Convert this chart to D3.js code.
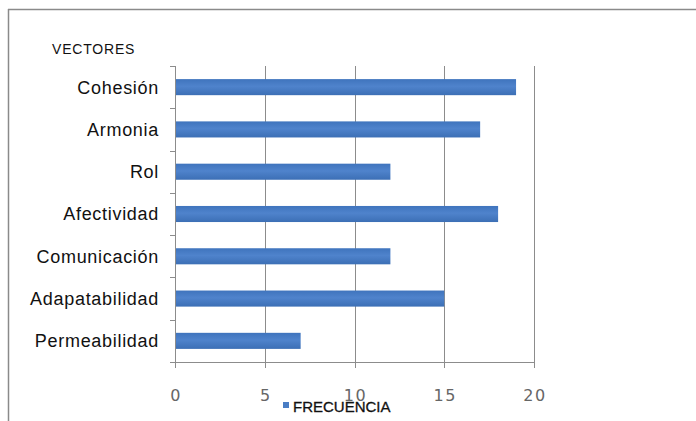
<!DOCTYPE html>
<html>
<head>
<meta charset="utf-8">
<script src="https://cdn.jsdelivr.net/npm/d3@7"></script>
<style>
  body { margin: 0; background: #fff; }
  svg { display: block; }
</style>
</head>
<body>
<svg id="chart" width="696" height="421"></svg>
<script>
// datos del gráfico
const vectores = ["Cohesión", "Armonia", "Rol", "Afectividad", "Comunicación", "Adapatabilidad", "Permeabilidad"];
const frecuencia = [19, 17, 12, 18, 12, 15, 7];
const ticksX = [0, 5, 10, 15, 20];

const svg = d3.select('#chart');
const margin = { top: 66, left: 175, right: 162, bottom: 59 };
const width = 696 - margin.left - margin.right;
const height = 421 - margin.top - margin.bottom;

// marco exterior
svg.append('line')
    .attr('x1', 8).attr('x2', 696).attr('y1', 9.5).attr('y2', 9.5)
    .attr('stroke', '#8a8a8a').attr('stroke-width', 1.5);
svg.append('line')
    .attr('x1', 8.5).attr('x2', 8.5).attr('y1', 9).attr('y2', 421)
    .attr('stroke', '#8a8a8a').attr('stroke-width', 1.5);

const g = svg.append('g').attr('transform', `translate(${margin.left},${margin.top})`);

const x = d3.scaleLinear().domain([0, 20]).range([0, width]);
const y = d3.scaleBand().domain(vectores).range([0, height]).paddingInner(0.62).paddingOuter(0.31);
const yb = d3.scaleBand().domain(vectores).range([0, height]);

// líneas de cuadrícula
g.selectAll('.grid')
    .data(ticksX.slice(1))
    .enter()
    .append('line')
    .attr('class', 'grid')
    .attr('x1', d => Math.round(x(d)) + 0.5)
    .attr('x2', d => Math.round(x(d)) + 0.5)
    .attr('y1', 0)
    .attr('y2', height)
    .attr('stroke', '#8c8c8c')
    .attr('stroke-width', 1);

// eje x
g.append('line')
    .attr('x1', 0).attr('x2', width).attr('y1', height + 0.5).attr('y2', height + 0.5)
    .attr('stroke', '#8c8c8c');
g.selectAll('.xtick')
    .data(ticksX)
    .enter()
    .append('line')
    .attr('class', 'xtick')
    .attr('x1', d => Math.round(x(d)) + 0.5)
    .attr('x2', d => Math.round(x(d)) + 0.5)
    .attr('y1', height)
    .attr('y2', height + 6)
    .attr('stroke', '#8c8c8c');
g.selectAll('.xlabel')
    .data(ticksX)
    .enter()
    .append('text')
    .attr('class', 'xlabel')
    .attr('x', d => x(d) + 1)
    .attr('y', height + 39)
    .attr('text-anchor', 'middle')
    .attr('font-family', 'DejaVu Sans, sans-serif')
    .attr('font-size', 16)
    .attr('letter-spacing', 1.5)
    .attr('fill', '#666')
    .text(d => d);

// eje y
g.append('line')
    .attr('x1', 0.5).attr('x2', 0.5).attr('y1', 0).attr('y2', height)
    .attr('stroke', '#8c8c8c');
g.selectAll('.ytick')
    .data(vectores.concat(['fin']))
    .enter()
    .append('line')
    .attr('class', 'ytick')
    .attr('x1', -5).attr('x2', 0)
    .attr('y1', (d, i) => Math.round(i * yb.step()) + 0.5)
    .attr('y2', (d, i) => Math.round(i * yb.step()) + 0.5)
    .attr('stroke', '#8c8c8c');

// barras
const grad = svg.append('defs').append('linearGradient')
    .attr('id', 'barra').attr('x1', 0).attr('x2', 0).attr('y1', 0).attr('y2', 1);
grad.append('stop').attr('offset', '0%').attr('stop-color', '#3f74bd');
grad.append('stop').attr('offset', '45%').attr('stop-color', '#4f83cc');
grad.append('stop').attr('offset', '100%').attr('stop-color', '#3c6fb5');

g.selectAll('.barra')
    .data(frecuencia)
    .enter()
    .append('rect')
    .attr('class', 'barra')
    .attr('x', 1)
    .attr('y', (d, i) => y(vectores[i]))
    .attr('width', d => x(d) - 1)
    .attr('height', y.bandwidth())
    .attr('fill', 'url(#barra)');

// etiquetas categorías
g.selectAll('.ylabel')
    .data(vectores)
    .enter()
    .append('text')
    .attr('class', 'ylabel')
    .attr('x', -16)
    .attr('y', d => yb(d) + yb.bandwidth() / 2)
    .attr('dy', '0.36em')
    .attr('text-anchor', 'end')
    .attr('font-family', 'Liberation Sans, Arial, sans-serif')
    .attr('font-size', 18)
    .attr('letter-spacing', 0.7)
    .attr('fill', '#111')
    .text(d => d);

// título eje
svg.append('text')
    .attr('x', 52).attr('y', 54)
    .attr('font-family', 'Liberation Sans, Arial, sans-serif')
    .attr('font-size', 14)
    .attr('letter-spacing', 0.8)
    .attr('fill', '#111')
    .text('VECTORES');

// leyenda
svg.append('rect')
    .attr('x', 283).attr('y', 402).attr('width', 6).attr('height', 6)
    .attr('fill', '#4a7dc4');
svg.append('text')
    .attr('x', 293).attr('y', 412)
    .attr('font-family', 'Liberation Sans, Arial, sans-serif')
    .attr('font-size', 15)
    .attr('stroke', '#111')
    .attr('stroke-width', 0.3)
    .attr('fill', '#111')
    .text('FRECUENCIA');
</script>
</body>
</html>
